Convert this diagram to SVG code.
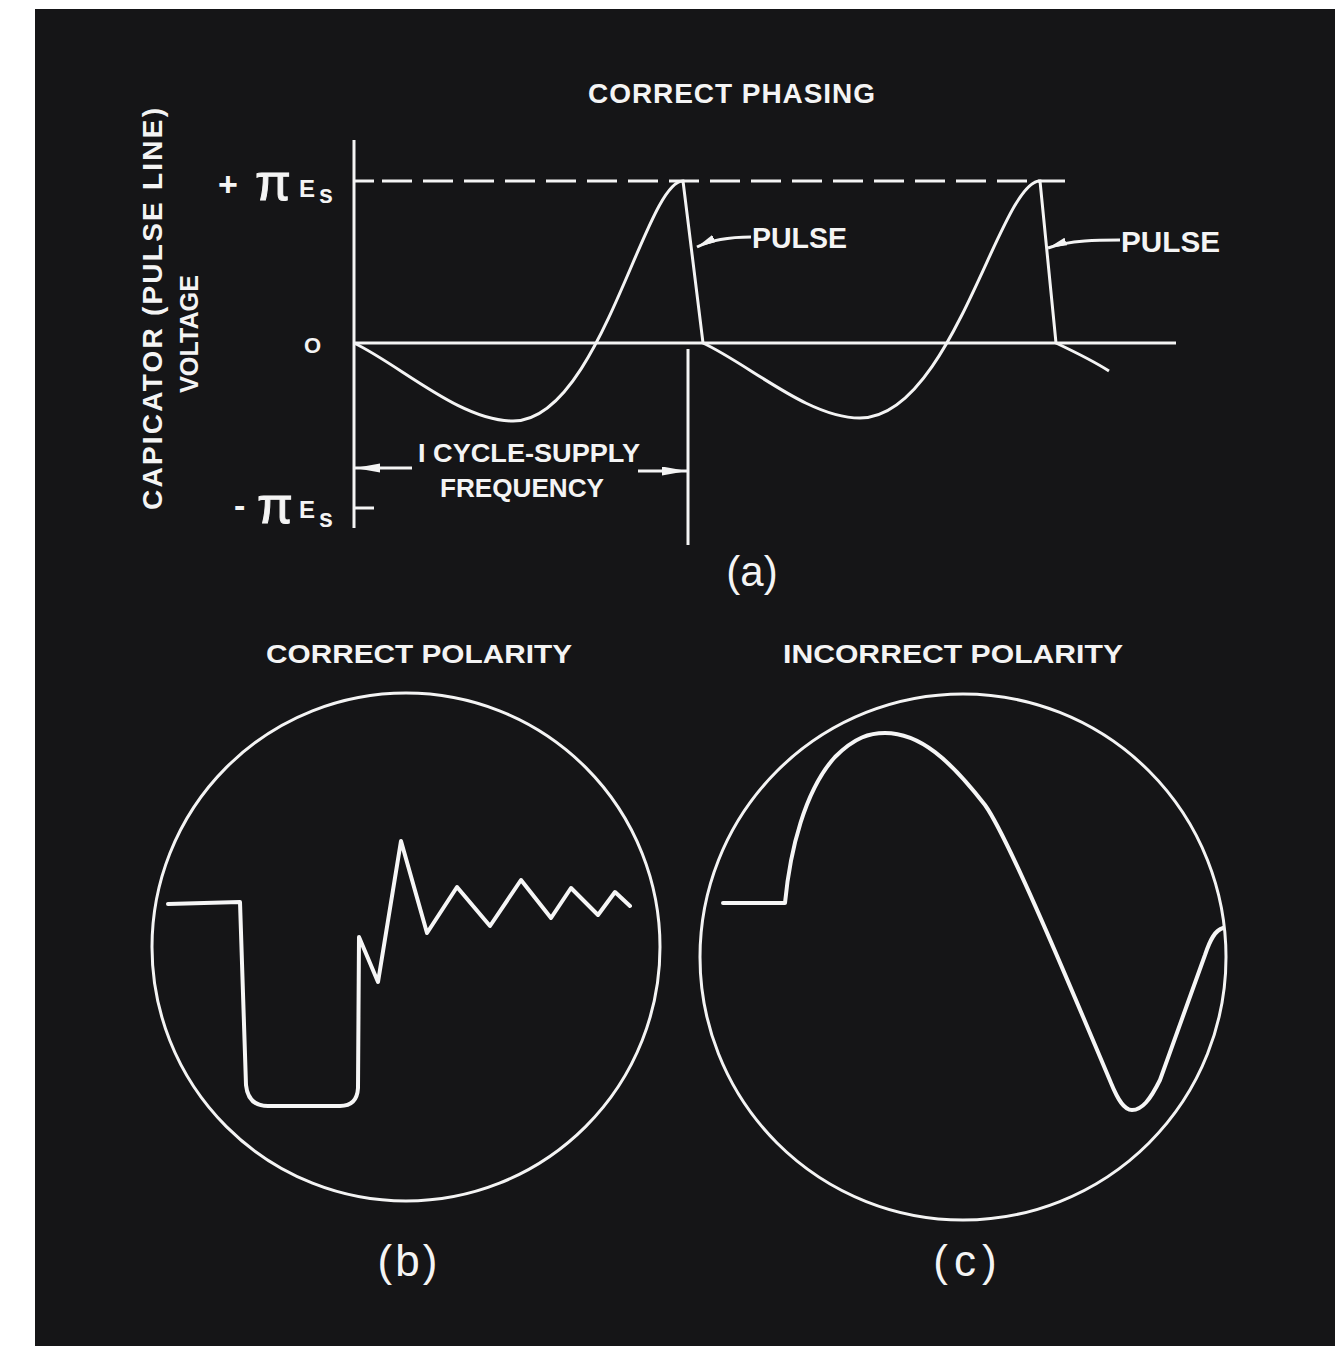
<svg xmlns="http://www.w3.org/2000/svg" width="1340" height="1346" viewBox="0 0 1340 1346">
<defs>
<style>
.ln{stroke:#f4f4f4;stroke-width:3;fill:none}
.wv{stroke:#f6f6f6;stroke-width:4;fill:none;stroke-linejoin:round;stroke-linecap:round}
.tb{fill:#f4f4f4;font-family:"Liberation Sans",Arial,sans-serif;font-weight:bold}
.tr{fill:#f4f4f4;font-family:"Liberation Sans",Arial,sans-serif}
</style>
<marker id="ah" markerUnits="userSpaceOnUse" markerWidth="26" markerHeight="10" refX="25" refY="4.5" orient="auto">
<path d="M0,0 L25,4.5 L0,9 z" fill="#f4f4f4"/>
</marker>
<marker id="ahs" markerUnits="userSpaceOnUse" markerWidth="20" markerHeight="10" refX="19" refY="4" orient="auto">
<path d="M0,0 L19,4 L0,8 z" fill="#f4f4f4"/>
</marker>
</defs>
<rect x="0" y="0" width="1340" height="1346" fill="#ffffff"/>
<rect x="35" y="9" width="1300" height="1337" fill="#151517"/>

<g id="panel-a">
<text class="tb" x="588" y="103" font-size="28" textLength="287" lengthAdjust="spacing">CORRECT PHASING</text>
<text class="tb" font-size="28" text-anchor="middle" textLength="402" lengthAdjust="spacing" transform="translate(162,309) rotate(-90)">CAPICATOR (PULSE LINE)</text>
<text class="tb" font-size="25" text-anchor="middle" textLength="118" lengthAdjust="spacingAndGlyphs" transform="translate(198,334) rotate(-90)">VOLTAGE</text>
<g id="axis-labels">
<text class="tb" x="218" y="196" font-size="34">+</text>
<text class="tr" x="255" y="200" font-size="52" stroke="#f4f4f4" stroke-width="1">π</text>
<text class="tb" x="299" y="197" font-size="24">E</text>
<text class="tb" x="319" y="203" font-size="25">s</text>
<text class="tb" x="304" y="353" font-size="22">O</text>
<text class="tb" x="234" y="517" font-size="34">-</text>
<text class="tr" x="257" y="523" font-size="52" stroke="#f4f4f4" stroke-width="1">π</text>
<text class="tb" x="299" y="518" font-size="24">E</text>
<text class="tb" x="319" y="527" font-size="25">s</text>
</g>
<g id="axes">
<line class="ln" x1="354" y1="140" x2="354" y2="528"/>
<line class="ln" x1="354" y1="181" x2="374" y2="181"/>
<line class="ln" x1="354" y1="508" x2="374" y2="508"/>
<line class="ln" x1="382" y1="181" x2="1065" y2="181" stroke-dasharray="30 11"/>
<line class="ln" x1="354" y1="343" x2="1176" y2="343"/>
<line class="ln" x1="688" y1="349" x2="688" y2="545"/>
</g>
<path id="curve-a" class="ln" stroke-width="3.5" d="M354,343 C400,365 460,421 513,421 C600,421 645,181 683,181 L703,343 C750,365 808,418 860,418 C952,418 1000,181 1040,181 L1056,343 C1075,352 1095,362 1109,371"/>
<g id="connectors">
<line class="ln" x1="412" y1="468" x2="355" y2="468" marker-end="url(#ah)"/>
<line class="ln" x1="638" y1="471" x2="687" y2="471" marker-end="url(#ah)"/>
<path class="ln" d="M751,237 C735,237 715,238 697,247" marker-end="url(#ahs)"/>
<path class="ln" d="M1120,240 C1100,240 1070,240 1048,248" marker-end="url(#ahs)"/>
</g>
<text class="tb" x="752" y="248" font-size="29" textLength="95" lengthAdjust="spacingAndGlyphs">PULSE</text>
<text class="tb" x="1121" y="252" font-size="29" textLength="99" lengthAdjust="spacingAndGlyphs">PULSE</text>
<text class="tb" x="418" y="462" font-size="26" textLength="222" lengthAdjust="spacingAndGlyphs">I CYCLE-SUPPLY</text>
<text class="tb" x="440" y="497" font-size="26" textLength="164" lengthAdjust="spacingAndGlyphs">FREQUENCY</text>
<text class="tr" x="752" y="586" font-size="42" text-anchor="middle">(a)</text>
</g>

<g id="panel-b">
<text class="tb" x="266" y="663" font-size="25" textLength="306" lengthAdjust="spacingAndGlyphs">CORRECT  POLARITY</text>
<circle class="ln" cx="406" cy="947" r="254"/>
<path class="wv" d="M168,904 L240,902 L246,1085 Q248,1106 268,1106 L340,1106 Q357,1106 358,1088 L359,937 L378,982 L401,841 L427,933 L457,887 L490,926 L521,880 L551,918 L571,888 L598,915 L615,892 L630,906"/>
<text class="tr" x="409" y="1276" font-size="44" text-anchor="middle" letter-spacing="3">(b)</text>
</g>

<g id="panel-c">
<text class="tb" x="783" y="663" font-size="25" textLength="340" lengthAdjust="spacingAndGlyphs">INCORRECT  POLARITY</text>
<circle class="ln" cx="963" cy="957" r="263"/>
<path class="wv" d="M723,903 L785,903 C790,850 805,790 835,757 C855,737 870,733 885,733 C920,733 950,760 985,805 C1010,840 1080,1010 1111,1083 C1118,1100 1124,1110 1132,1110 C1142,1110 1150,1100 1160,1080 L1205,955 C1210,940 1215,930 1223,928"/>
<text class="tr" x="968" y="1276" font-size="44" text-anchor="middle" letter-spacing="6">(c)</text>
</g>
</svg>
